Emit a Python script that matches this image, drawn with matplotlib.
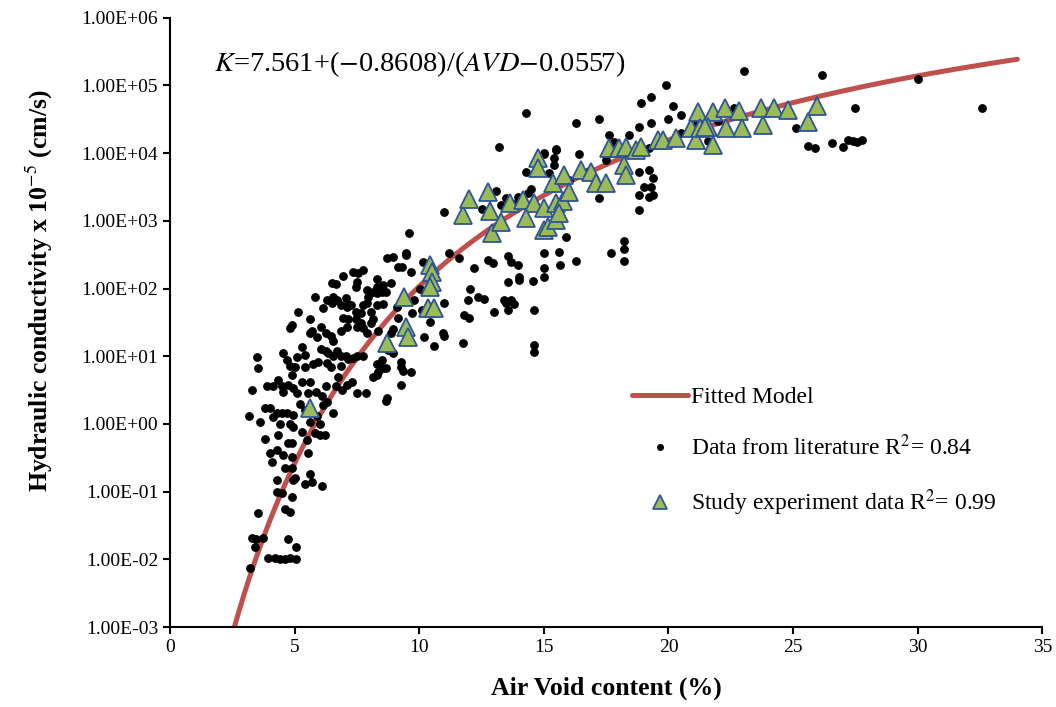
import numpy as np
import matplotlib
matplotlib.use("Agg")
import matplotlib.pyplot as plt
from matplotlib.ticker import FixedLocator, FixedFormatter

# literature data (air voids %, K x 1e-5 cm/s)
lit_avd = [
    3.22, 3.3, 3.45, 3.74, 3.42, 4.75, 5.07, 3.95, 4.2, 4.4, 4.6, 4.8, 5.05,
    3.55, 4.6, 4.8, 4.3, 4.5, 4.9, 4.3, 4.95, 5.7, 6.1, 5.4,
    4.6, 4.9, 5.0, 5.6, 4.9, 4.0, 4.3, 4.55, 4.1, 5.55,
    3.8, 4.35, 4.75, 4.9, 5.5, 5.3, 5.8, 6.0, 6.2,
    4.8, 4.95, 4.4, 4.15, 4.3, 4.5, 4.7, 4.95,
    3.6, 3.15, 3.8, 4.0, 5.6, 6.0, 6.55, 6.15, 6.3, 8.65,
    3.3, 3.5, 3.55, 3.9, 4.15, 4.35, 4.5, 4.55, 4.75, 4.95, 5.1, 5.3, 5.6, 5.55,
    4.55, 4.7, 4.8, 5.0, 4.9, 5.4, 5.75, 5.3,
    4.8, 4.9, 5.15, 5.6, 5.7, 5.8, 6.15,
    6.3, 6.5, 6.55, 6.7, 6.85, 7.05, 7.15,
    6.5, 6.65, 6.95, 7.35, 7.55, 7.75, 7.5, 7.45,
    7.9, 8.15, 8.3, 8.3, 8.5, 8.7, 8.95, 9.15, 9.45,
    5.9, 6.25, 6.45, 6.55, 6.85, 7.1,
    6.05, 6.25, 6.35, 6.55, 6.7, 6.85, 7.05, 7.15, 7.35, 7.5, 7.75,
    6.45, 6.85, 6.25, 6.65, 6.9, 7.1, 7.3, 6.75, 7.5, 7.85,
    8.15, 8.35, 8.55, 9.25, 8.7,
    5.6, 6.05, 5.1, 5.4, 5.95, 6.3,
    6.95, 7.15, 7.45, 7.65, 7.75, 7.5, 7.9,
    7.1, 7.25, 7.75, 7.9, 8.05, 8.15, 8.35,
    7.45, 7.65, 8.05, 8.3, 8.55, 7.95, 8.3, 8.65, 8.55, 8.85,
    9.1, 9.15, 8.85, 8.95,
    8.3, 8.5, 8.65, 8.3, 8.75, 8.95, 9.25, 9.35,
    5.2, 5.4, 5.9, 6.1, 5.85,
    11.0, 9.6, 9.45, 10.15, 9.3, 9.65, 11.2, 11.6, 12.2, 12.75, 12.95,
    13.55, 13.7, 13.95, 13.55, 14.0, 14.0, 14.55, 15.0, 15.0, 15.0,
    15.6, 15.65, 16.3,
    12.05, 12.35, 11.95, 12.6, 13.4, 13.7, 13.8, 13.5, 13.0, 13.55,
    11.8, 12.0, 14.6, 11.0, 10.45, 10.95, 11.0, 10.2, 10.6, 11.75,
    14.6, 14.6, 9.65, 9.25, 10.05, 9.8, 9.7, 10.1,
    15.9, 17.7, 18.2, 18.2, 18.2,
    19.9, 18.9, 19.3, 20.2, 20.5, 16.3, 17.2, 18.8, 19.3, 20.0,
    17.6, 17.8, 18.4, 15.5, 15.4, 15.4, 16.4, 15.0, 19.2,
    18.8, 19.2, 19.4, 19.0, 19.3, 18.8, 19.2, 19.4, 18.8, 17.2,
    14.3, 13.2, 15.0, 15.5, 14.3, 13.1, 13.5, 13.3, 13.95, 14.35,
    23.05, 26.15, 30.0, 32.6, 27.5, 25.1, 25.6, 25.9, 26.55, 27.0,
    27.2, 27.4, 27.75, 27.55, 22.65, 21.6,
    12.5, 13.8, 14.5, 15.2, 16.0, 16.8, 17.5, 20.5, 21.0, 22.0,
]
lit_k = [
    0.0074, 0.021, 0.02, 0.021, 0.015, 0.02, 0.015, 0.0105, 0.0105, 0.01, 0.01, 0.0105, 0.01,
    0.048, 0.055, 0.05, 0.1, 0.095, 0.083, 0.15, 0.15, 0.14, 0.12, 0.13,
    0.22, 0.22, 0.16, 0.18, 0.32, 0.37, 0.41, 0.35, 0.27, 0.37,
    0.61, 0.68, 0.53, 0.52, 0.57, 0.76, 0.73, 0.68, 0.68,
    1.0, 0.9, 1.0, 1.27, 1.45, 1.45, 1.45, 1.35,
    1.06, 1.3, 1.7, 1.75, 1.06, 1.0, 1.45, 1.9, 2.1, 2.2,
    3.2, 9.8, 6.8, 3.6, 3.6, 4.4, 3.6, 3.0, 3.8, 3.4, 2.9, 4.1, 4.1, 2.9,
    11, 8.8, 7.3, 6.9, 5.2, 6.9, 7.8, 13.5,
    26, 29, 45, 35, 24, 75, 51,
    67, 62, 75, 67, 57, 72, 60,
    120, 115, 155, 175, 170, 190, 125, 105,
    95, 90, 105, 140, 90, 280, 290, 210, 310,
    19, 22, 20, 17, 24, 27,
    13, 12, 11, 10, 12, 10, 10, 9, 9.5, 10, 10,
    6.9, 7.3, 3.6, 3.6, 3.2, 3.8, 4.1, 5.0, 2.9, 2.9,
    5.0, 5.8, 6.6, 3.8, 2.4,
    22, 27, 9.8, 10.5, 8.1, 8.0,
    37, 35, 36, 31, 26, 27, 22,
    53, 57, 57, 62, 31, 35, 24,
    45, 44, 45, 57, 60, 75, 85, 88, 112, 120,
    53, 37, 22, 25,
    7.8, 8.8, 6.6, 5.2, 12.5, 11, 6.9, 6.0,
    2.0, 1.6, 1.3, 2.6, 3.0,
    1350, 660, 330, 245, 210, 175, 330, 280, 200, 260, 240,
    300, 245, 225, 126, 148, 135, 130, 200, 148, 330,
    345, 225, 255,
    100, 74, 68, 71, 68, 68, 60, 62, 45, 48,
    41, 37, 48, 62, 32, 22, 20, 19, 14, 15.5,
    14.7, 11.5, 5.9, 8.1, 100, 68, 44, 48,
    575, 330, 500, 380, 255,
    100000, 55000, 68000, 50000, 37000, 27500, 32000, 24500, 27500, 32000,
    18600, 14400, 18600, 11400, 8500, 6600, 9800, 9800, 12000,
    5200, 5600, 4250, 3160, 3160, 2400, 2240, 2400, 1440, 2200,
    39000, 12300, 10000, 11000, 5200, 2800, 2200, 1700, 2240, 2570,
    163000, 141000, 124000, 47000, 47000, 23500, 12600, 12000, 14100, 12300,
    15600, 15000, 15600, 14500, 47000, 15000,
    1500, 1800, 3000, 5000, 4000, 5500, 8000, 20000, 28000, 30000,
]

# study experiment data
exp_avd = [
    5.6, 8.7, 9.4, 9.45, 9.55, 10.45, 10.5, 10.5, 10.45, 10.35, 10.6,
    11.75, 12.0, 12.75, 12.85, 12.9, 13.3, 13.65, 14.15, 14.6, 14.3,
    15.0, 15.15, 15.5, 15.0, 15.5, 15.75,
    14.75, 14.75, 15.35, 15.8, 16.0, 15.6,
    16.5, 16.9, 17.1, 17.5,
    17.6, 18.0, 18.3, 18.7, 18.9, 18.2, 18.3,
    19.6, 19.8, 20.3,
    20.9, 21.2, 21.8, 21.1, 21.8, 21.25, 21.6,
    22.25, 22.85, 23.7, 24.25, 24.8, 25.95, 25.6, 23.8, 22.95, 22.3, 21.45,
]
exp_k = [
    1.7, 15.6, 75, 27, 19, 224, 175, 125, 105, 51, 51,
    1200, 2100, 2700, 1400, 660, 960, 1850, 2000, 1850, 1100,
    720, 810, 1020, 1550, 1850, 1950,
    8500, 6000, 3600, 4800, 2700, 1300,
    5600, 5200, 3600, 3600,
    12000, 12000, 12300, 11200, 12300, 6600, 4800,
    15600, 15600, 16600,
    23600, 40500, 40500, 15600, 13200, 23600, 24500,
    47000, 42000, 47000, 47000, 43500, 50000, 29000, 26000, 23600, 23600, 24500,
]

# fitted model: log10(K) = a + b / (AVD/100 - c)
a, b, c = 7.561, -0.8608, -0.0557

plt.rcParams['font.family'] = ['Liberation Serif', 'DejaVu Serif']
plt.rcParams['mathtext.fontset'] = 'stix'

fig = plt.figure(figsize=(10.56, 7.07), dpi=100)
ax = fig.add_axes([0.161, 0.113, 0.826, 0.862])

xs = np.linspace(2.55, 34, 300)
ax.plot(xs, 10 ** (a + b / (xs / 100 - c)), color='#C0504D', lw=3.6,
        solid_capstyle='round', label='Fitted Model', zorder=1)
ax.plot(lit_avd, lit_k, 'o', color='black', ms=5.3, ls='none',
        label='Data from literature R$^2$= 0.84', zorder=2)
ax.plot(exp_avd, exp_k, '^', mfc='#9BBB59', mec='#2F5597', mew=1.3, ms=13.5,
        ls='none', label='Study experiment data R$^2$= 0.99', zorder=3)

ax.set_yscale('log')
ax.set_xlim(0, 35)
ax.set_ylim(1e-3, 1e6)
ax.set_xticks(range(0, 36, 5))
ticks = [10.0 ** e for e in range(-3, 7)]
ax.yaxis.set_major_locator(FixedLocator(ticks))
ax.yaxis.set_major_formatter(FixedFormatter(
    ['1.00E%+03d' % e if e >= 0 else '1.00E-%02d' % -e for e in range(-3, 7)]))
ax.yaxis.set_minor_locator(FixedLocator([]))
ax.tick_params(labelsize=14, length=5, width=1.5, direction='out')
for s in ['top', 'right']:
    ax.spines[s].set_visible(False)
for s in ['left', 'bottom']:
    ax.spines[s].set_linewidth(1.5)

ax.set_xlabel('Air Void content (%)', fontsize=18.5, fontweight='bold', labelpad=15)
ax.set_ylabel('Hydraulic conductivity x 10$^{-5}$ (cm/s)', fontsize=18.5,
              fontweight='bold')
ax.yaxis.set_label_coords(-0.132, 0.552)

fig.text(0.203, 0.9, r'$K$=7.561+($-$0.8608)/($AVD$$-$0.0557)', fontsize=20.5)

leg = ax.legend(loc='upper left', bbox_to_anchor=(0.505, 0.43), frameon=False,
                fontsize=17, labelspacing=1.15, handlelength=2.4,
                handletextpad=0.1, markerscale=0.7)
leg.legend_handles[1].set_markersize(4)

fig.savefig('out.png', dpi=100)
